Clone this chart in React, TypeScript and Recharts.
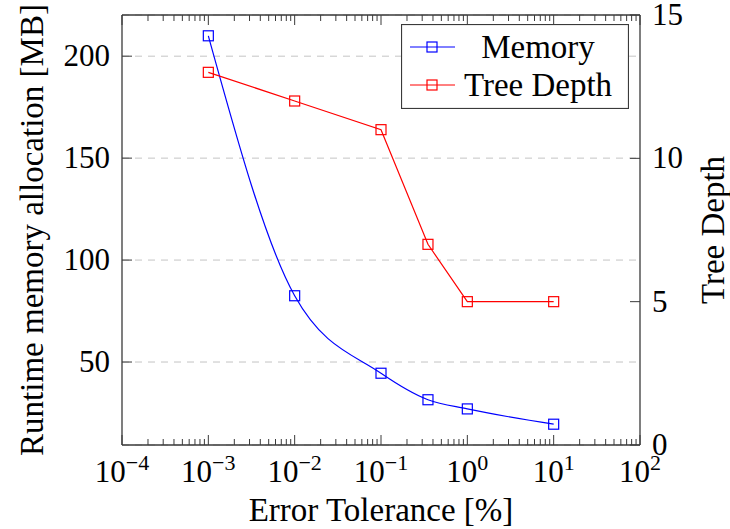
import { LineChart, Line, XAxis, YAxis, CartesianGrid, Legend } from "recharts"

// error tolerance in percent
const tolerance = [0.001, 0.01, 0.1, 0.35, 1, 10]
const memoryMB = [210, 82.5, 44.5, 31.5, 27, 19.5]
const treeDepth = [13, 12, 11, 7, 5, 5]

const xMajorTicks = [1e-4, 1e-3, 1e-2, 1e-1, 1, 10, 100]
const memoryTicks = [50, 100, 150, 200]
const depthTicks = [0, 5, 10, 15]

const FONT = "'Liberation Serif', 'DejaVu Serif', serif"
const AXIS = "#3a3a3a"
const BLUE = "#0000ff"
const RED = "#ff0000"

const data = tolerance.map((t, i) => ({ x: t, mem: memoryMB[i], depth: treeDepth[i] }))

// major decades plus the 2..9 minor ticks in between
const xAllTicks: number[] = []
xMajorTicks.forEach((t, i) => {
    xAllTicks.push(t)
    if (i < xMajorTicks.length - 1) {
        for (let k = 2; k <= 9; k++) xAllTicks.push(Number((t * k).toPrecision(3)))
    }
})

const isMajor = (v: number) => xMajorTicks.some(t => Math.abs(t - v) / t < 1e-6)

const BottomTick = (props: any) => {
    const { x, y, payload } = props
    const v = payload.value
    const major = isMajor(v)
    const exp = Math.round(Math.log10(v))
    return (
        <g>
            <line x1={x} x2={x} y1={y} y2={y - (major ? 10 : 6)} stroke={AXIS} strokeWidth={1} />
            {major && (
                <text x={x} y={y + 37} textAnchor="middle" fontFamily={FONT} fontSize={31} fill="#000">
                    10<tspan dy={-12} fontSize={22}>{exp < 0 ? "\u2212" + Math.abs(exp) : exp}</tspan>
                </text>
            )}
        </g>
    )
}

const TopTick = (props: any) => {
    const { x, y, payload } = props
    const major = isMajor(payload.value)
    return <line x1={x} x2={x} y1={y} y2={y + (major ? 10 : 6)} stroke={AXIS} strokeWidth={1} />
}

const LeftTick = (props: any) => {
    const { x, y, payload } = props
    return (
        <g>
            <line x1={x} x2={x + 10} y1={y} y2={y} stroke={AXIS} strokeWidth={1} />
            <text x={x - 12} y={y + 10} textAnchor="end" fontFamily={FONT} fontSize={31} fill="#000">
                {payload.value}
            </text>
        </g>
    )
}

const RightTick = (props: any) => {
    const { x, y, payload } = props
    return (
        <g>
            <line x1={x} x2={x - 10} y1={y} y2={y} stroke={AXIS} strokeWidth={1} />
            <text x={x + 12} y={y + 10} textAnchor="start" fontFamily={FONT} fontSize={31} fill="#000">
                {payload.value}
            </text>
        </g>
    )
}

const bottomTitle = (props: any) => {
    const vb = props.viewBox
    return (
        <text x={vb.x + vb.width / 2} y={vb.y + 76} textAnchor="middle" fontFamily={FONT} fontSize={33} fill="#000">
            Error Tolerance [%]
        </text>
    )
}

const leftTitle = (props: any) => {
    const vb = props.viewBox
    const cx = 43
    const cy = vb.y + vb.height / 2
    return (
        <text x={cx} y={cy} transform={`rotate(-90 ${cx} ${cy})`} textAnchor="middle" fontFamily={FONT} fontSize={33} fill="#000">
            Runtime memory allocation [MB]
        </text>
    )
}

const rightTitle = (props: any) => {
    const vb = props.viewBox
    const cx = 724
    const cy = vb.y + vb.height / 2
    return (
        <text x={cx} y={cy} transform={`rotate(-90 ${cx} ${cy})`} textAnchor="middle" fontFamily={FONT} fontSize={33} fill="#000">
            Tree Depth
        </text>
    )
}

const squareDot = (color: string) => (p: any) => (
    <rect key={`${color}-${p.index}`} x={p.cx - 5} y={p.cy - 5} width={10} height={10}
        fill="none" stroke={color} strokeWidth={1.2} />
)

const renderLegend = (props: any) => {
    const items = props.payload || []
    return (
        <svg width={228} height={85} style={{ display: "block" }}>
            <rect x={0.5} y={0.5} width={227} height={84} fill="#fff" stroke={AXIS} strokeWidth={1.2} />
            {items.map((it: any, i: number) => {
                const cy = 23 + i * 38
                return (
                    <g key={it.value}>
                        <line x1={9} x2={54} y1={cy} y2={cy} stroke={it.color} strokeWidth={1} />
                        <rect x={26} y={cy - 5} width={10} height={10} fill="none" stroke={it.color} strokeWidth={1.2} />
                        <text x={137} y={cy + 11} textAnchor="middle" fontFamily={FONT} fontSize={33} fill="#000">
                            {it.value}
                        </text>
                    </g>
                )
            })}
        </svg>
    )
}

export default function App() {
    return (
        <div style={{ position: "absolute", left: 0, top: 0 }}>
            <LineChart width={730} height={529} data={data} margin={{ top: 0, right: 0, bottom: 0, left: 0 }}>
                <CartesianGrid yAxisId="left" vertical={false} stroke="#c4c4c4" strokeDasharray="7 6" />
                <XAxis xAxisId="bottom" dataKey="x" type="number" scale="log" domain={[1e-4, 100]} allowDataOverflow
                    ticks={xAllTicks} interval={0} height={84} tickSize={0} tickMargin={0} tickLine={false}
                    axisLine={{ stroke: AXIS, strokeWidth: 1.3 }} tick={<BottomTick />}
                    label={{ content: bottomTitle }} />
                <XAxis xAxisId="top" orientation="top" dataKey="x" type="number" scale="log" domain={[1e-4, 100]} allowDataOverflow
                    ticks={xAllTicks} interval={0} height={15} tickSize={0} tickMargin={0} tickLine={false}
                    axisLine={{ stroke: AXIS, strokeWidth: 1.3 }} tick={<TopTick />} />
                <YAxis yAxisId="left" type="number" domain={[9.3, 220.2]} allowDataOverflow ticks={memoryTicks} interval={0}
                    width={122} tickSize={0} tickMargin={0} tickLine={false}
                    axisLine={{ stroke: AXIS, strokeWidth: 1.3 }} tick={<LeftTick />}
                    label={{ content: leftTitle }} />
                <YAxis yAxisId="right" orientation="right" type="number" domain={[0, 15]} ticks={depthTicks} interval={0}
                    width={90} tickSize={0} tickMargin={0} tickLine={false}
                    axisLine={{ stroke: AXIS, strokeWidth: 1.3 }} tick={<RightTick />}
                    label={{ content: rightTitle }} />
                <Line xAxisId="bottom" yAxisId="left" dataKey="mem" name="Memory" type="monotone" stroke={BLUE} strokeWidth={1.2}
                    dot={squareDot(BLUE)} activeDot={false} isAnimationActive={false} />
                <Line xAxisId="top" yAxisId="right" dataKey="depth" name="Tree Depth" type="linear" stroke={RED} strokeWidth={1.2}
                    dot={squareDot(RED)} activeDot={false} isAnimationActive={false} />
                <Legend layout="vertical" align="center" verticalAlign="middle" content={renderLegend}
                    wrapperStyle={{ position: "absolute", left: 401, top: 24, width: 228, height: 85 }} />
            </LineChart>
        </div>
    )
}
